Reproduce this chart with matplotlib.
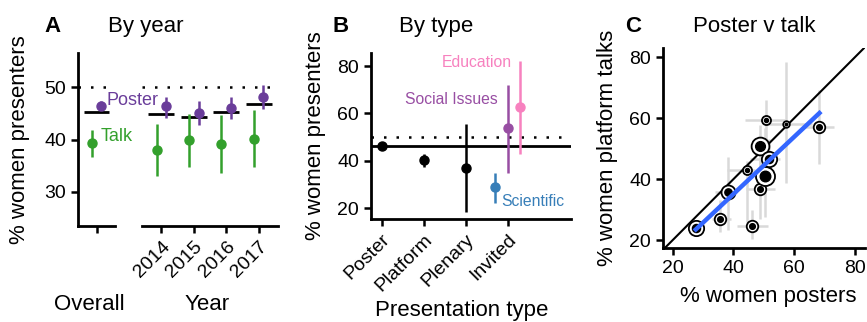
import matplotlib
matplotlib.use("Agg")
import matplotlib.pyplot as plt
import numpy as np

plt.rcParams['font.family'] = ['Liberation Sans', 'DejaVu Sans']

# Panel A: by year
years = ['2014', '2015', '2016', '2017']
overall_all = 45.3
year_all = [44.9, 44.2, 45.2, 46.8]
talk_overall = [39.4, 36.7, 41.8]     # mid, lo, hi
poster_overall = [46.4, 45.9, 47.3]
talk_mid = [38.0, 39.9, 39.2, 40.1]
talk_lo = [33.0, 34.7, 33.7, 34.7]
talk_hi = [42.9, 44.9, 44.7, 45.6]
poster_mid = [46.3, 45.1, 46.1, 48.2]
poster_lo = [44.1, 42.7, 44.0, 45.8]
poster_hi = [48.2, 47.4, 48.2, 50.4]

# Panel B: by type
types = ['Poster', 'Platform', 'Plenary', 'Invited']
type_mid = [46.3, 40.3, 37.0]
type_lo = [45.6, 37.6, 18.6]
type_hi = [47.0, 43.0, 55.5]
invited_groups = ['Scientific', 'Social Issues', 'Education']
invited_mid = [28.8, 53.8, 62.7]
invited_lo = [22.2, 34.8, 42.8]
invited_hi = [34.8, 72.0, 82.0]
overall_type = 46.3

# Panel C: poster v talk per meeting
pc_poster = [27.6, 35.7, 46.2, 38.3, 44.4, 48.8, 50.4, 48.8, 51.7, 50.8, 57.2, 68.3]
pc_talk = [24.1, 27.0, 24.7, 35.8, 43.1, 36.6, 41.1, 50.7, 46.5, 59.3, 58.2, 57.0]
pc_poster_lo = [26.0, 33.0, 41.3, 34.0, 37.8, 44.0, 48.0, 46.0, 45.5, 43.8, 50.0, 63.0]
pc_poster_hi = [29.0, 39.3, 51.5, 41.0, 47.0, 53.7, 53.0, 52.0, 55.3, 57.0, 66.0, 73.1]
pc_talk_lo = [22.0, 22.5, 20.5, 23.3, 26.0, 27.0, 27.7, 36.4, 40.0, 52.0, 38.6, 45.0]
pc_talk_hi = [26.0, 33.0, 30.0, 47.4, 46.0, 46.0, 56.7, 57.8, 53.0, 66.0, 78.3, 69.3]
pc_n = [10, 7, 7, 9, 5, 7, 13, 12, 10, 5, 3, 7]   # relative sample size
fit_slope = 0.938
fit_intercept = -2.4

green = '#33a02c'
purple = '#6a3d9a'
W, H = 867, 322


def style(ax):
    for s in ['top', 'right']:
        ax.spines[s].set_visible(False)
    for s in ['left', 'bottom']:
        ax.spines[s].set_linewidth(2)
    ax.tick_params(width=1.8, length=5, labelsize=14, colors='black')


def pos(x0, y0, x1, y1):
    return [x0 / W, 1 - y1 / H, (x1 - x0) / W, (y1 - y0) / H]


fig = plt.figure(figsize=(8.67, 3.22), dpi=100)

# ---- Panel A
axL = fig.add_axes(pos(78, 53, 115, 226))
axR = fig.add_axes(pos(142, 53, 278, 226))
axL.set_zorder(2)
axL.patch.set_visible(False)
for ax in (axL, axR):
    style(ax)
    ax.set_ylim(23.5, 56.5)
    ax.axhline(50, color='black', linestyle=(0, (1, 4)), lw=1.8)
axR.spines['left'].set_visible(False)
axR.tick_params(axis='y', left=False, labelleft=False)
axL.set_xlim(0.4, 1.6)
axR.set_xlim(0.4, 4.6)
axL.set_yticks([30, 40, 50])
axL.set_xticks([1])
axL.set_xticklabels([''])
xr = np.arange(1, 5)
axR.set_xticks(xr)
axR.set_xticklabels(years, rotation=45, ha='right', rotation_mode='anchor')

off = 0.15
axL.hlines(overall_all, 0.6, 1.4, color='black', lw=2)
axL.errorbar(1 - off, talk_overall[0],
             yerr=[[talk_overall[0] - talk_overall[1]], [talk_overall[2] - talk_overall[0]]],
             fmt='o', color=green, ms=6.5, elinewidth=1.8, capsize=0)
axL.errorbar(1 + off, poster_overall[0],
             yerr=[[poster_overall[0] - poster_overall[1]], [poster_overall[2] - poster_overall[0]]],
             fmt='o', color=purple, ms=6.5, elinewidth=1.8, capsize=0)
axL.text(1.34, 47.5, 'Poster', color=purple, fontsize=13, va='center', ha='left', clip_on=False)
axL.text(1.12, 40.5, 'Talk', color=green, fontsize=13, va='center', ha='left', clip_on=False)

axR.hlines(year_all, xr - 0.4, xr + 0.4, color='black', lw=2)
axR.errorbar(xr - off, talk_mid,
             yerr=[np.subtract(talk_mid, talk_lo), np.subtract(talk_hi, talk_mid)],
             fmt='o', color=green, ms=6.5, elinewidth=1.8, capsize=0)
axR.errorbar(xr + off, poster_mid,
             yerr=[np.subtract(poster_mid, poster_lo), np.subtract(poster_hi, poster_mid)],
             fmt='o', color=purple, ms=6.5, elinewidth=1.8, capsize=0)

axL.set_ylabel('% women presenters', fontsize=16)
axL.yaxis.set_label_coords((20 - 78) / 37, 0.5)
axL.yaxis.label.set_va('center')
axL.set_xlabel('Overall', fontsize=16)
axL.xaxis.set_label_coords(0.3, -0.395)
axR.set_xlabel('Year', fontsize=16)
axR.xaxis.set_label_coords(0.48, -0.395)

# ---- Panel B
axB = fig.add_axes(pos(371, 53, 571, 219))
style(axB)
axB.set_xlim(0.75, 5.5)
axB.set_ylim(15.5, 85.5)
axB.set_yticks([20, 40, 60, 80])
axB.set_xticks(np.arange(1, 5))
axB.set_xticklabels(types, rotation=45, ha='right', rotation_mode='anchor')
axB.axhline(50, color='black', linestyle=(0, (1, 4)), lw=1.8)
axB.axhline(overall_type, color='black', lw=2)
xb = np.arange(1, 4)
axB.errorbar(xb, type_mid,
             yerr=[np.subtract(type_mid, type_lo), np.subtract(type_hi, type_mid)],
             fmt='o', color='black', ms=6.5, elinewidth=1.8, capsize=0)
inv_cols = ['#377eb8', '#984ea3', '#f781bf']
inv_x = [4 - 0.3, 4, 4 + 0.28]
for x, m, lo, hi, c in zip(inv_x, invited_mid, invited_lo, invited_hi, inv_cols):
    axB.errorbar(x, m, yerr=[[m - lo], [hi - m]], fmt='o', color=c, ms=6.5,
                 elinewidth=1.8, capsize=0)
axB.text(4.09, 81.7, 'Education', color=inv_cols[2], fontsize=11.3, ha='right', va='center')
axB.text(3.76, 65.7, 'Social Issues', color=inv_cols[1], fontsize=11.3, ha='right', va='center')
axB.text(3.85, 22.7, 'Scientific', color=inv_cols[0], fontsize=11.3, ha='left', va='center')
axB.set_ylabel('% women presenters', fontsize=16)
axB.yaxis.set_label_coords((315 - 371) / 200, 0.5)
axB.yaxis.label.set_va('center')
axB.set_xlabel('Presentation type', fontsize=16)
axB.xaxis.set_label_coords(0.455, -0.49)

# ---- Panel C
axC = fig.add_axes(pos(663, 48, 865, 248))
style(axC)
axC.set_xlim(16.8, 83.3)
axC.set_ylim(17.4, 83)
axC.set_xticks([20, 40, 60, 80])
axC.set_yticks([20, 40, 60, 80])
axC.hlines(pc_talk, pc_poster_lo, pc_poster_hi, color='#d9d9d9', lw=1.8, zorder=1)
axC.vlines(pc_poster, pc_talk_lo, pc_talk_hi, color='#d9d9d9', lw=1.8, zorder=1)
axC.axline((20, 20), slope=1, color='black', lw=1.5, zorder=2)
fx = np.array([min(pc_poster), max(pc_poster)])
axC.plot(fx, fit_intercept + fit_slope * fx, color='#3366ff', lw=3.2, zorder=4)
for x, y, n in zip(pc_poster, pc_talk, pc_n):
    s = n * 0.9
    axC.plot(x, y, 'o', mfc='white', mec='black', mew=1.3, ms=s + 2, zorder=3)
    axC.plot(x, y, 'o', color='black', ms=s * 0.65, zorder=3)
axC.set_ylabel('% women platform talks', fontsize=16)
axC.yaxis.set_label_coords((608 - 663) / 202, 0.5)
axC.yaxis.label.set_va('center')
axC.set_xlabel('% women posters', fontsize=16)
axC.xaxis.set_label_coords(0.52, -0.19)

# panel letters and titles
base = 1 - 32 / H
for x, letter in [(44, 'A'), (333, 'B'), (625, 'C')]:
    fig.text(x / W, base, letter, fontsize=16, fontweight='bold', va='baseline')
for x, title in [(108, 'By year'), (399, 'By type'), (693, 'Poster v talk')]:
    fig.text(x / W, base, title, fontsize=16, va='baseline')

fig.savefig('out.png', dpi=100)
